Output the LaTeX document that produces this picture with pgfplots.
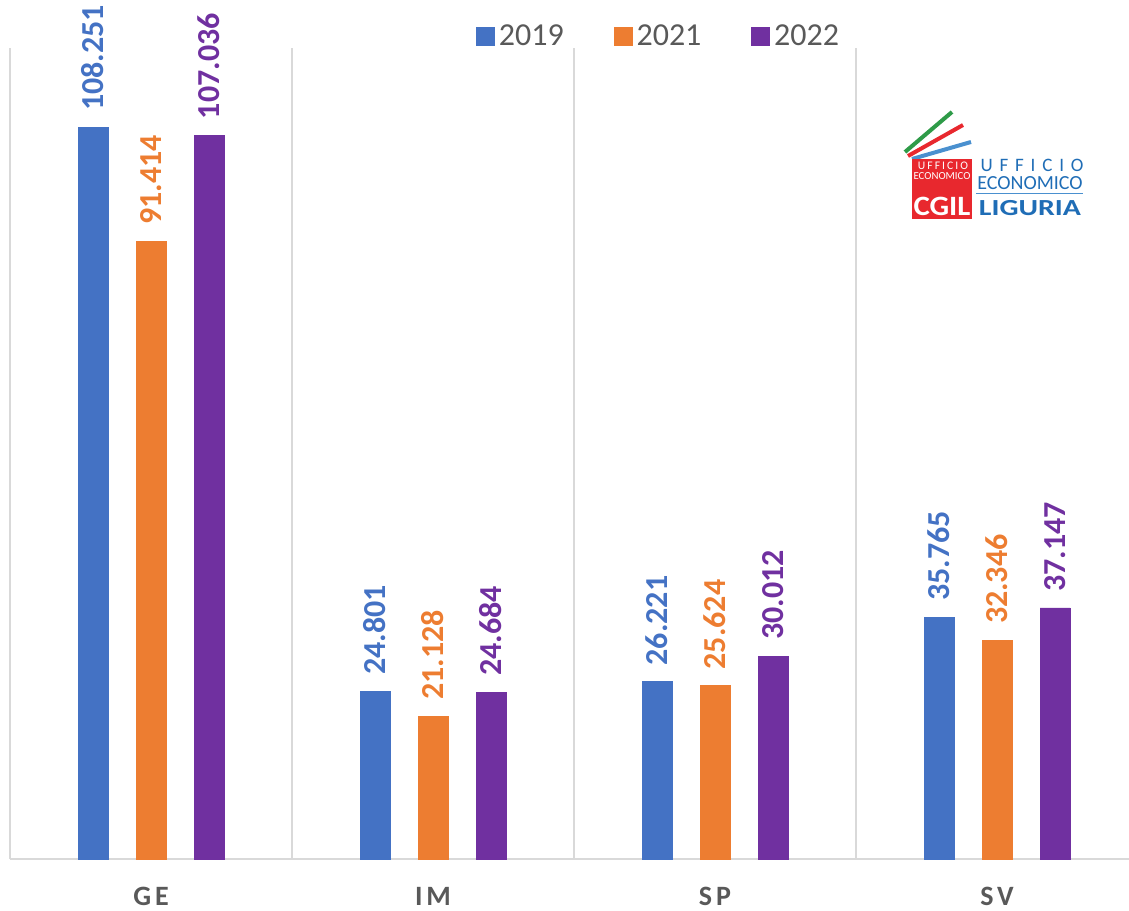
\documentclass[border=0pt]{standalone}
\usepackage{pgfplots}
\pgfplotsset{compat=1.18}
\usepackage{fontspec}
\setmainfont{Carlito}
\definecolor{c19}{HTML}{4472C4}
\definecolor{c21}{HTML}{ED7D31}
\definecolor{c22}{HTML}{7030A0}
\definecolor{txtgray}{HTML}{595959}
\definecolor{gridgray}{HTML}{D9D9D9}
\definecolor{logored}{HTML}{E8282E}
\definecolor{logogreen}{HTML}{2E9B48}
\definecolor{logoblue}{HTML}{1F6DB6}
\definecolor{logoblueL}{HTML}{4A90CF}
\begin{document}
\begin{tikzpicture}
\useasboundingbox (0,0) rectangle (564.5pt,455pt);
\begin{axis}[
  at={(5pt,25.5pt)}, anchor=south west,
  scale only axis, width=559.5pt, height=405.5pt,
  xmin=-0.5, xmax=3.468, ymin=0, ymax=120,
  axis x line=bottom, axis y line=left,
  axis line style={-, gridgray, line width=1pt},
  ytick=\empty,
  xtick={0,1,2,3}, xticklabels={GE,IM,SP,SV},
  major tick length=0pt,
  extra x ticks={0.5,1.5,2.5}, extra x tick labels={},
  extra x tick style={grid=major, major grid style={gridgray, line width=1pt}},
  xticklabel style={font=\bfseries\fontsize{14}{14}\selectfont\addfontfeature{LetterSpace=14}, text=txtgray, anchor=center, inner sep=1pt, yshift=-18.5pt},
  ybar=14pt, bar width=15pt,
  nodes near coords, point meta=explicit symbolic,
  every node near coord/.append style={rotate=90, anchor=west, font=\bfseries\fontsize{16}{16}\selectfont, inner xsep=8pt},
  legend columns=3,
  legend style={at={(0.5805,1.014)}, anchor=center, draw=none, fill=none,
    font=\fontsize{16}{16}\selectfont\color{txtgray},
    /tikz/every even column/.append style={column sep=23pt}},
  legend image code/.code={\fill[#1] (-2pt,-4.5pt) rectangle (7pt,4.5pt);},
  clip=false,
]
\addplot[fill=c19, draw=c19, every node near coord/.append style={text=c19}]
  coordinates {(0,108.251) [108.251] (1,24.801) [24.801] (2,26.221) [26.221] (3,35.765) [35.765]};
\addplot[fill=c21, draw=c21, every node near coord/.append style={text=c21}]
  coordinates {(0,91.414) [91.414] (1,21.128) [21.128] (2,25.624) [25.624] (3,32.346) [32.346]};
\addplot[fill=c22, draw=c22, every node near coord/.append style={text=c22}]
  coordinates {(0,107.036) [107.036] (1,24.684) [24.684] (2,30.012) [30.012] (3,37.147) [37.147]};
\legend{2019,2021,2022}
\end{axis}
\begin{scope}[yshift=455pt, x=0.5pt, y=-0.5pt]
\draw[line width=2pt, logogreen] (905,152)--(952,112);
\draw[line width=2pt, logored] (908,156)--(963,125);
\draw[line width=2pt, logoblueL] (912,159)--(971,142);
\fill[logored] (912,159) rectangle (972,219);
\node[white, inner sep=0pt, font=\fontsize{5.8}{6}\selectfont\addfontfeature{LetterSpace=18}] at (943,166) {UFFICIO};
\node[white, inner sep=0pt, font=\fontsize{5.4}{6}\selectfont] at (942,176) {ECONOMICO};
\node[white, inner sep=0pt, font=\bfseries\fontsize{14}{14}\selectfont, xscale=1.1] at (942,206) {CGIL};
\node[logoblue, inner sep=0pt, font=\fontsize{9.5}{10}\selectfont\addfontfeature{LetterSpace=36}] at (1032,165) {UFFICIO};
\node[logoblue, inner sep=0pt, font=\fontsize{10}{10}\selectfont] at (1030,183) {ECONOMICO};
\draw[logoblueL, line width=0.5pt] (976,194)--(1083,194);
\node[logoblue, inner sep=0pt, font=\bfseries\fontsize{11.5}{12}\selectfont, xscale=1.3] at (1030,208) {LIGURIA};
\end{scope}
\end{tikzpicture}
\end{document}
